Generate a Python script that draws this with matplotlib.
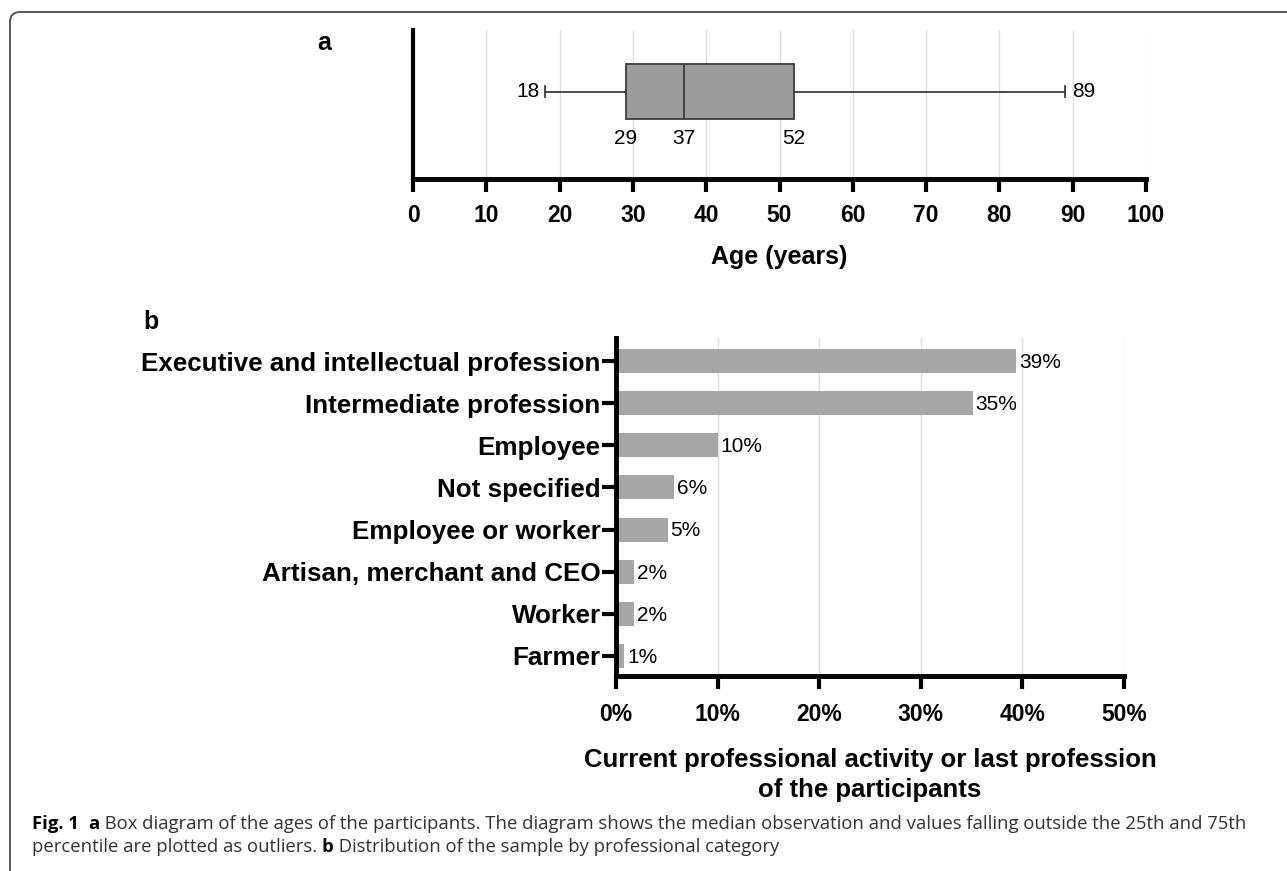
import matplotlib.pyplot as plt
from matplotlib.patches import FancyBboxPatch
from matplotlib.transforms import IdentityTransform

plt.rcParams['font.family'] = ['Liberation Sans', 'DejaVu Sans']

W, H = 1287, 871

# panel a: age box diagram
age_min, age_q1, age_median, age_q3, age_max = 18, 29, 37, 52, 89
age_ticks = [0, 10, 20, 30, 40, 50, 60, 70, 80, 90, 100]

# panel b: professional category
professions = ['Executive and intellectual profession', 'Intermediate profession', 'Employee',
               'Not specified', 'Employee or worker', 'Artisan, merchant and CEO', 'Worker', 'Farmer']
shares = [39.4, 35.1, 10.0, 5.7, 5.1, 1.8, 1.8, 0.8]
share_labels = ['39%', '35%', '10%', '6%', '5%', '2%', '2%', '1%']
share_ticks = [0, 10, 20, 30, 40, 50]

fig = plt.figure(figsize=(W / 100, H / 100), dpi=100)

# frame round the figure
frame = FancyBboxPatch((10, -20), W + 40, H - 12 + 20, boxstyle='round,pad=0,rounding_size=10',
                       transform=IdentityTransform(), facecolor='none', edgecolor='#555555', linewidth=1.4)
fig.add_artist(frame)

box_col = '#3c3c3c'

# ---- a
ax_a = fig.add_axes([413 / W, 1 - 179 / H, 733 / W, 149 / H])
stats = [{'whislo': age_min, 'q1': age_q1, 'med': age_median, 'q3': age_q3, 'whishi': age_max, 'fliers': []}]
ax_a.bxp(stats, positions=[0.587], widths=0.369, orientation='horizontal', patch_artist=True,
         showfliers=False, manage_ticks=False, capwidths=0.08,
         boxprops=dict(facecolor='#9c9c9c', edgecolor=box_col, linewidth=1.3),
         medianprops=dict(color=box_col, linewidth=1.3),
         whiskerprops=dict(color=box_col, linewidth=1.3),
         capprops=dict(color=box_col, linewidth=1.3))
ax_a.set_xlim(0, 100)
ax_a.set_ylim(0, 1)
ax_a.set_xticks(age_ticks)
ax_a.set_yticks([])
ax_a.grid(axis='x', color='#dddddd', linewidth=1)
ax_a.set_axisbelow(True)
for s in ['top', 'right']:
  ax_a.spines[s].set_visible(False)
ax_a.spines['left'].set_linewidth(3)
ax_a.spines['bottom'].set_linewidth(3.5)
ax_a.tick_params(axis='x', direction='out', length=9, width=3, labelsize=16.5, pad=9)
for lab in ax_a.get_xticklabels():
  lab.set_fontweight('bold')
ax_a.set_xlabel('Age (years)', fontsize=18, fontweight='bold', labelpad=13)

ax_a.annotate(str(age_min), (age_min, 0.587), xytext=(-4, 0), textcoords='offset points',
              ha='right', va='center', fontsize=15)
ax_a.annotate(str(age_max), (age_max, 0.587), xytext=(5, 0), textcoords='offset points',
              ha='left', va='center', fontsize=15)
for v in [age_q1, age_median, age_q3]:
  ax_a.text(v, 0.275, str(v), ha='center', va='center', fontsize=15)

# ---- b
ax_b = fig.add_axes([616 / W, 1 - 676 / H, 508 / W, 338 / H])
ypos = list(range(len(professions)))
ax_b.barh(ypos, shares, height=0.57, color='#a6a6a6')
ax_b.set_xlim(0, 50)
ax_b.set_ylim(7.475, -0.546)
ax_b.set_yticks(ypos)
ax_b.set_yticklabels(professions, fontsize=18.7, fontweight='bold')
ax_b.set_xticks(share_ticks)
ax_b.set_xticklabels([f'{t}%' for t in share_ticks], fontsize=16.5, fontweight='bold')
ax_b.grid(axis='x', color='#dddddd', linewidth=1)
ax_b.set_axisbelow(True)
for s in ['top', 'right']:
  ax_b.spines[s].set_visible(False)
ax_b.spines['left'].set_linewidth(3.5)
ax_b.spines['bottom'].set_linewidth(3.5)
ax_b.tick_params(axis='x', direction='out', length=9, width=3, pad=10.5)
ax_b.tick_params(axis='y', direction='out', length=10, width=3, pad=1)
ax_b.set_xlabel('Current professional activity or last profession\nof the participants',
                fontsize=18.5, fontweight='bold', labelpad=16, linespacing=1.28)
for y, v, lab in zip(ypos, shares, share_labels):
  ax_b.annotate(lab, (v, y), xytext=(2, -1), textcoords='offset points', ha='left', va='center', fontsize=15)

fig.text(317 / W, 1 - 43 / H, 'a', fontsize=18, fontweight='bold', va='center')
fig.text(143 / W, 1 - 322 / H, 'b', fontsize=18, fontweight='bold', va='center')

# caption
cap = dict(fontsize=13.3, fontfamily=['Open Sans', 'DejaVu Sans'], color='#333333')
t = fig.text(32 / W, 1 - 824 / H, 'Fig. 1', fontweight='bold', va='center', **dict(cap, color='black'))
t = fig.add_artist(plt.Annotation('a', (1, 0), xycoords=t, xytext=(7, 0), textcoords='offset points',
                                  va='bottom', fontweight='bold', **dict(cap, color='black')))
fig.add_artist(plt.Annotation(' Box diagram of the ages of the participants. The diagram shows the median observation '
                              'and values falling outside the 25th and 75th', (1, 0), xycoords=t,
                              va='bottom', **cap))
t = fig.text(32 / W, 1 - 847 / H, 'percentile are plotted as outliers. ', va='center', **cap)
t = fig.add_artist(plt.Annotation('b', (1, 0), xycoords=t, va='bottom', fontweight='bold',
                                  **dict(cap, color='black')))
fig.add_artist(plt.Annotation(' Distribution of the sample by professional category', (1, 0), xycoords=t,
                              va='bottom', **cap))

plt.savefig('out.png', dpi=100)
